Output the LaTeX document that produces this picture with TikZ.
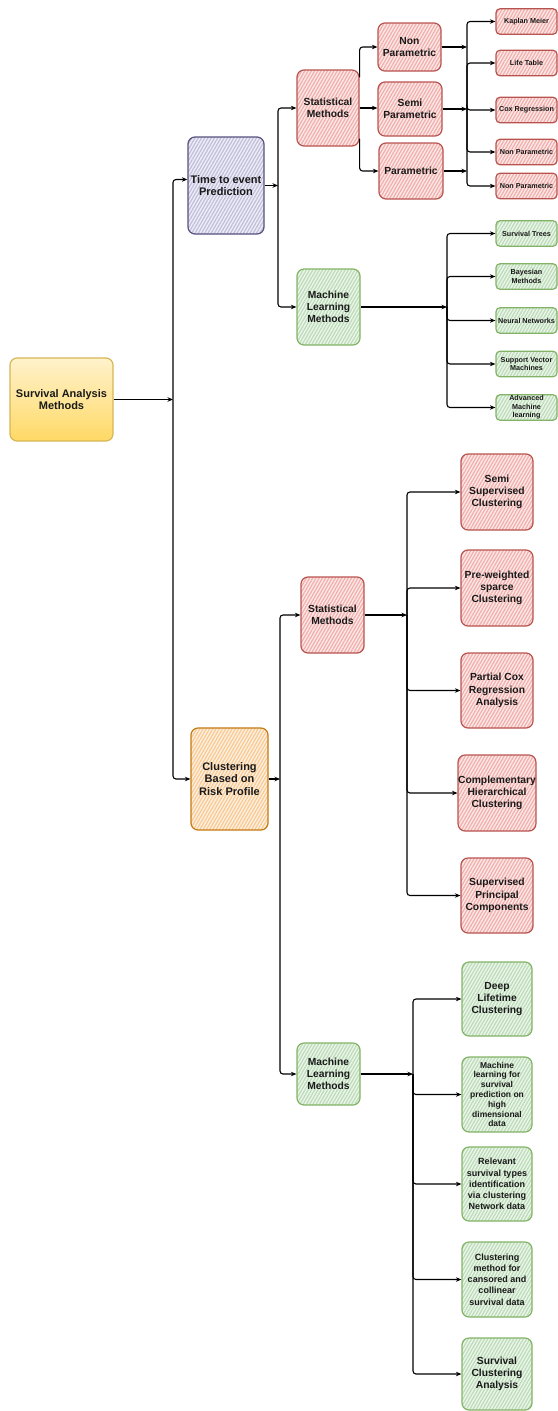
\documentclass[tikz,border=0pt]{standalone}
\usepackage{fontspec}
\setmainfont{Liberation Sans}
\usetikzlibrary{arrows.meta,patterns.meta}
\definecolor{redline}{HTML}{B85450}
\definecolor{redhatch}{HTML}{F2B0AD}
\definecolor{greenline}{HTML}{82B366}
\definecolor{greenhatch}{HTML}{BCDDB8}
\definecolor{purpleline}{HTML}{56517E}
\definecolor{purplehatch}{HTML}{C2BFDD}
\definecolor{orangeline}{HTML}{C47A12}
\definecolor{orangehatch}{HTML}{F9CA94}
\definecolor{yellowline}{HTML}{D6B656}
\definecolor{yellowtop}{HTML}{FFF2CC}
\definecolor{yellowbot}{HTML}{FFD966}
\definecolor{txt}{HTML}{1A1A1A}
\newcommand\fntA{\bfseries\fontsize{11}{12.7}\selectfont}
\newcommand\fntB{\bfseries\fontsize{10.3}{12.2}\selectfont}
\newcommand\fntC{\bfseries\fontsize{7.2}{8.4}\selectfont}
\newcommand\fntD{\bfseries\fontsize{9}{11.2}\selectfont}
\newcommand\fntE{\bfseries\fontsize{8.5}{9.8}\selectfont}
\tikzset{
  box/.style={rectangle, rounded corners=7pt, line width=1.2pt, align=center, inner sep=0pt, text=txt},
  hatch/.style={preaction={fill=#1!25}, pattern={Lines[angle=60,distance=2.8pt,line width=1.3pt]}, pattern color=#1},
  redbox/.style={box, draw=redline, hatch=redhatch},
  greenbox/.style={box, draw=greenline, hatch=greenhatch},
  purplebox/.style={box, draw=purpleline, hatch=purplehatch},
  orangebox/.style={box, draw=orangeline, hatch=orangehatch},
  yellowbox/.style={box, draw=yellowline, top color=yellowtop, bottom color=yellowbot},
  leaf/.style={rounded corners=4pt, minimum width=61, minimum height=25.5, font=\fntC},
  conn/.style={line width=1.1pt, rounded corners=3pt, draw=black, -{Stealth[length=5.5pt,width=4.5pt]}},
}
\begin{document}
\begin{tikzpicture}[x=1pt,y=-1pt]
\useasboundingbox (0,0) rectangle (557,1411);

% level 0 / 1
\node[yellowbox, minimum width=103, minimum height=83, font=\fntA] (sam) at (61.5,399.5) {Survival Analysis\\Methods};
\node[purplebox, minimum width=76, minimum height=97, font=\fntA] (time) at (226,185.5) {Time to event\\Prediction};
\node[orangebox, minimum width=77, minimum height=102, font=\fntA] (clu) at (229.5,779) {Clustering\\Based on\\Risk Profile};

% level 2
\node[redbox, minimum width=62, minimum height=76, font=\fntB] (stat1) at (328,108) {Statistical\\Methods};
\node[greenbox, minimum width=63, minimum height=76, font=\fntB] (ml1) at (328.5,307) {Machine\\Learning\\Methods};
\node[redbox, minimum width=63, minimum height=76, font=\fntB] (stat2) at (332.5,615) {Statistical\\Methods};
\node[greenbox, minimum width=63, minimum height=62, font=\fntB] (ml2) at (328.5,1074) {Machine\\Learning\\Methods};

% level 3 (statistical, top)
\node[redbox, minimum width=63, minimum height=48, font=\fntB] (np) at (409.5,47) {Non\\Parametric};
\node[redbox, minimum width=64, minimum height=54, font=\fntB] (sp) at (410,109) {Semi\\Parametric};
\node[redbox, minimum width=64, minimum height=56, font=\fntB] (par) at (411,171) {Parametric};

% top leaves
\node[redbox, leaf] (km) at (526.5,21.5) {Kaplan Meier};
\node[redbox, leaf] (lt) at (526.5,63) {Life Table};
\node[redbox, leaf] (cox) at (526.5,110) {Cox Regression};
\node[redbox, leaf] (npa) at (526.5,152) {Non Parametric};
\node[redbox, leaf] (npb) at (526.5,186) {Non Parametric};

\node[greenbox, leaf] (st) at (526.5,233.5) {Survival Trees};
\node[greenbox, leaf] (bm) at (526.5,276.5) {Bayesian\\Methods};
\node[greenbox, leaf] (nn) at (526.5,320.5) {Neural Networks};
\node[greenbox, leaf] (svm) at (526.5,364) {Support Vector\\Machines};
\node[greenbox, leaf] (aml) at (526.5,407.5) {Advanced\\Machine\\learning};

% bottom statistical leaves
\node[redbox, minimum width=72, minimum height=76, font=\fntB] (ssc) at (497,492) {Semi\\Supervised\\Clustering};
\node[redbox, minimum width=72, minimum height=76, font=\fntB] (pwc) at (497,588) {Pre-weighted\\sparce\\Clustering};
\node[redbox, minimum width=72, minimum height=75, font=\fntB] (pcr) at (497,690.5) {Partial Cox\\Regression\\Analysis};
\node[redbox, minimum width=72, minimum height=76, font=\fntB] (chc) at (497,793) {Complementary\\Hierarchical\\Clustering};
\node[redbox, minimum width=72, minimum height=75, font=\fntB] (spc) at (497,895.5) {Supervised\\Principal\\Components};

% bottom ML leaves
\node[greenbox, minimum width=70, minimum height=74, font=\fntB] (dlc) at (497,999) {Deep\\Lifetime\\Clustering};
\node[greenbox, minimum width=70, minimum height=75, font=\fntE] (mlh) at (497,1094.5) {Machine\\learning for\\survival\\prediction on\\high\\dimensional\\data};
\node[greenbox, minimum width=70, minimum height=74, font=\fntD] (rst) at (497,1184) {Relevant\\survival types\\identification\\via clustering\\Network data};
\node[greenbox, minimum width=70, minimum height=75, font=\fntD] (cmc) at (497,1279.5) {Clustering\\method for\\cansored and\\collinear\\survival data};
\node[greenbox, minimum width=70, minimum height=72, font=\fntB] (sca) at (497,1374) {Survival\\Clustering\\Analysis};

% junctions
\coordinate (j0) at (173,399.5);
\coordinate (j1) at (278,186);
\coordinate (j2) at (467,108);
\coordinate (j3) at (447,307);
\coordinate (j4) at (280,779);
\coordinate (j5) at (407,615);
\coordinate (j6) at (413,1074);

% level 0 -> 1
\draw[conn] (sam.east) -- (j0);
\draw[conn] (j0) |- ([yshift=6pt]time.west);
\draw[conn] (j0) |- (clu.west);

% time -> level 2
\draw[conn] (time.east) -- (time.east -| j1);
\draw[conn] (j1) |- (stat1.west);
\draw[conn] (j1) |- (ml1.west);

% clustering -> level 2
\draw[conn] (clu.east) -- (j4);
\draw[conn] (j4) |- (stat2.west);
\draw[conn] (j4) |- (ml2.west);

% statistical top -> parametric groups
\draw[conn] ([yshift=-8pt]stat1.north east) |- (np.west);
\draw[conn] (stat1.east) -- (stat1.east -| sp.west);
\draw[conn] ([yshift=8pt]stat1.south east) |- (par.west);

% parametric groups -> bus
\draw[conn] (np.east) -- (np.east -| j2);
\draw[conn] (sp.east) -- (sp.east -| j2);
\draw[conn] (par.east) -- (par.east -| j2);
\foreach \n in {km,lt,cox,npa,npb} \draw[conn] (j2) |- (\n.west);

% ML top
\draw[conn] (ml1.east) -- (j3);
\foreach \n in {st,bm,nn,svm,aml} \draw[conn] (j3) |- (\n.west);

% statistical bottom
\draw[conn] (stat2.east) -- (j5);
\foreach \n in {ssc,pwc,pcr,chc,spc} \draw[conn] (j5) |- (\n.west);

% ML bottom
\draw[conn] (ml2.east) -- (j6);
\foreach \n in {dlc,mlh,rst,cmc,sca} \draw[conn] (j6) |- (\n.west);
\end{tikzpicture}
\end{document}
